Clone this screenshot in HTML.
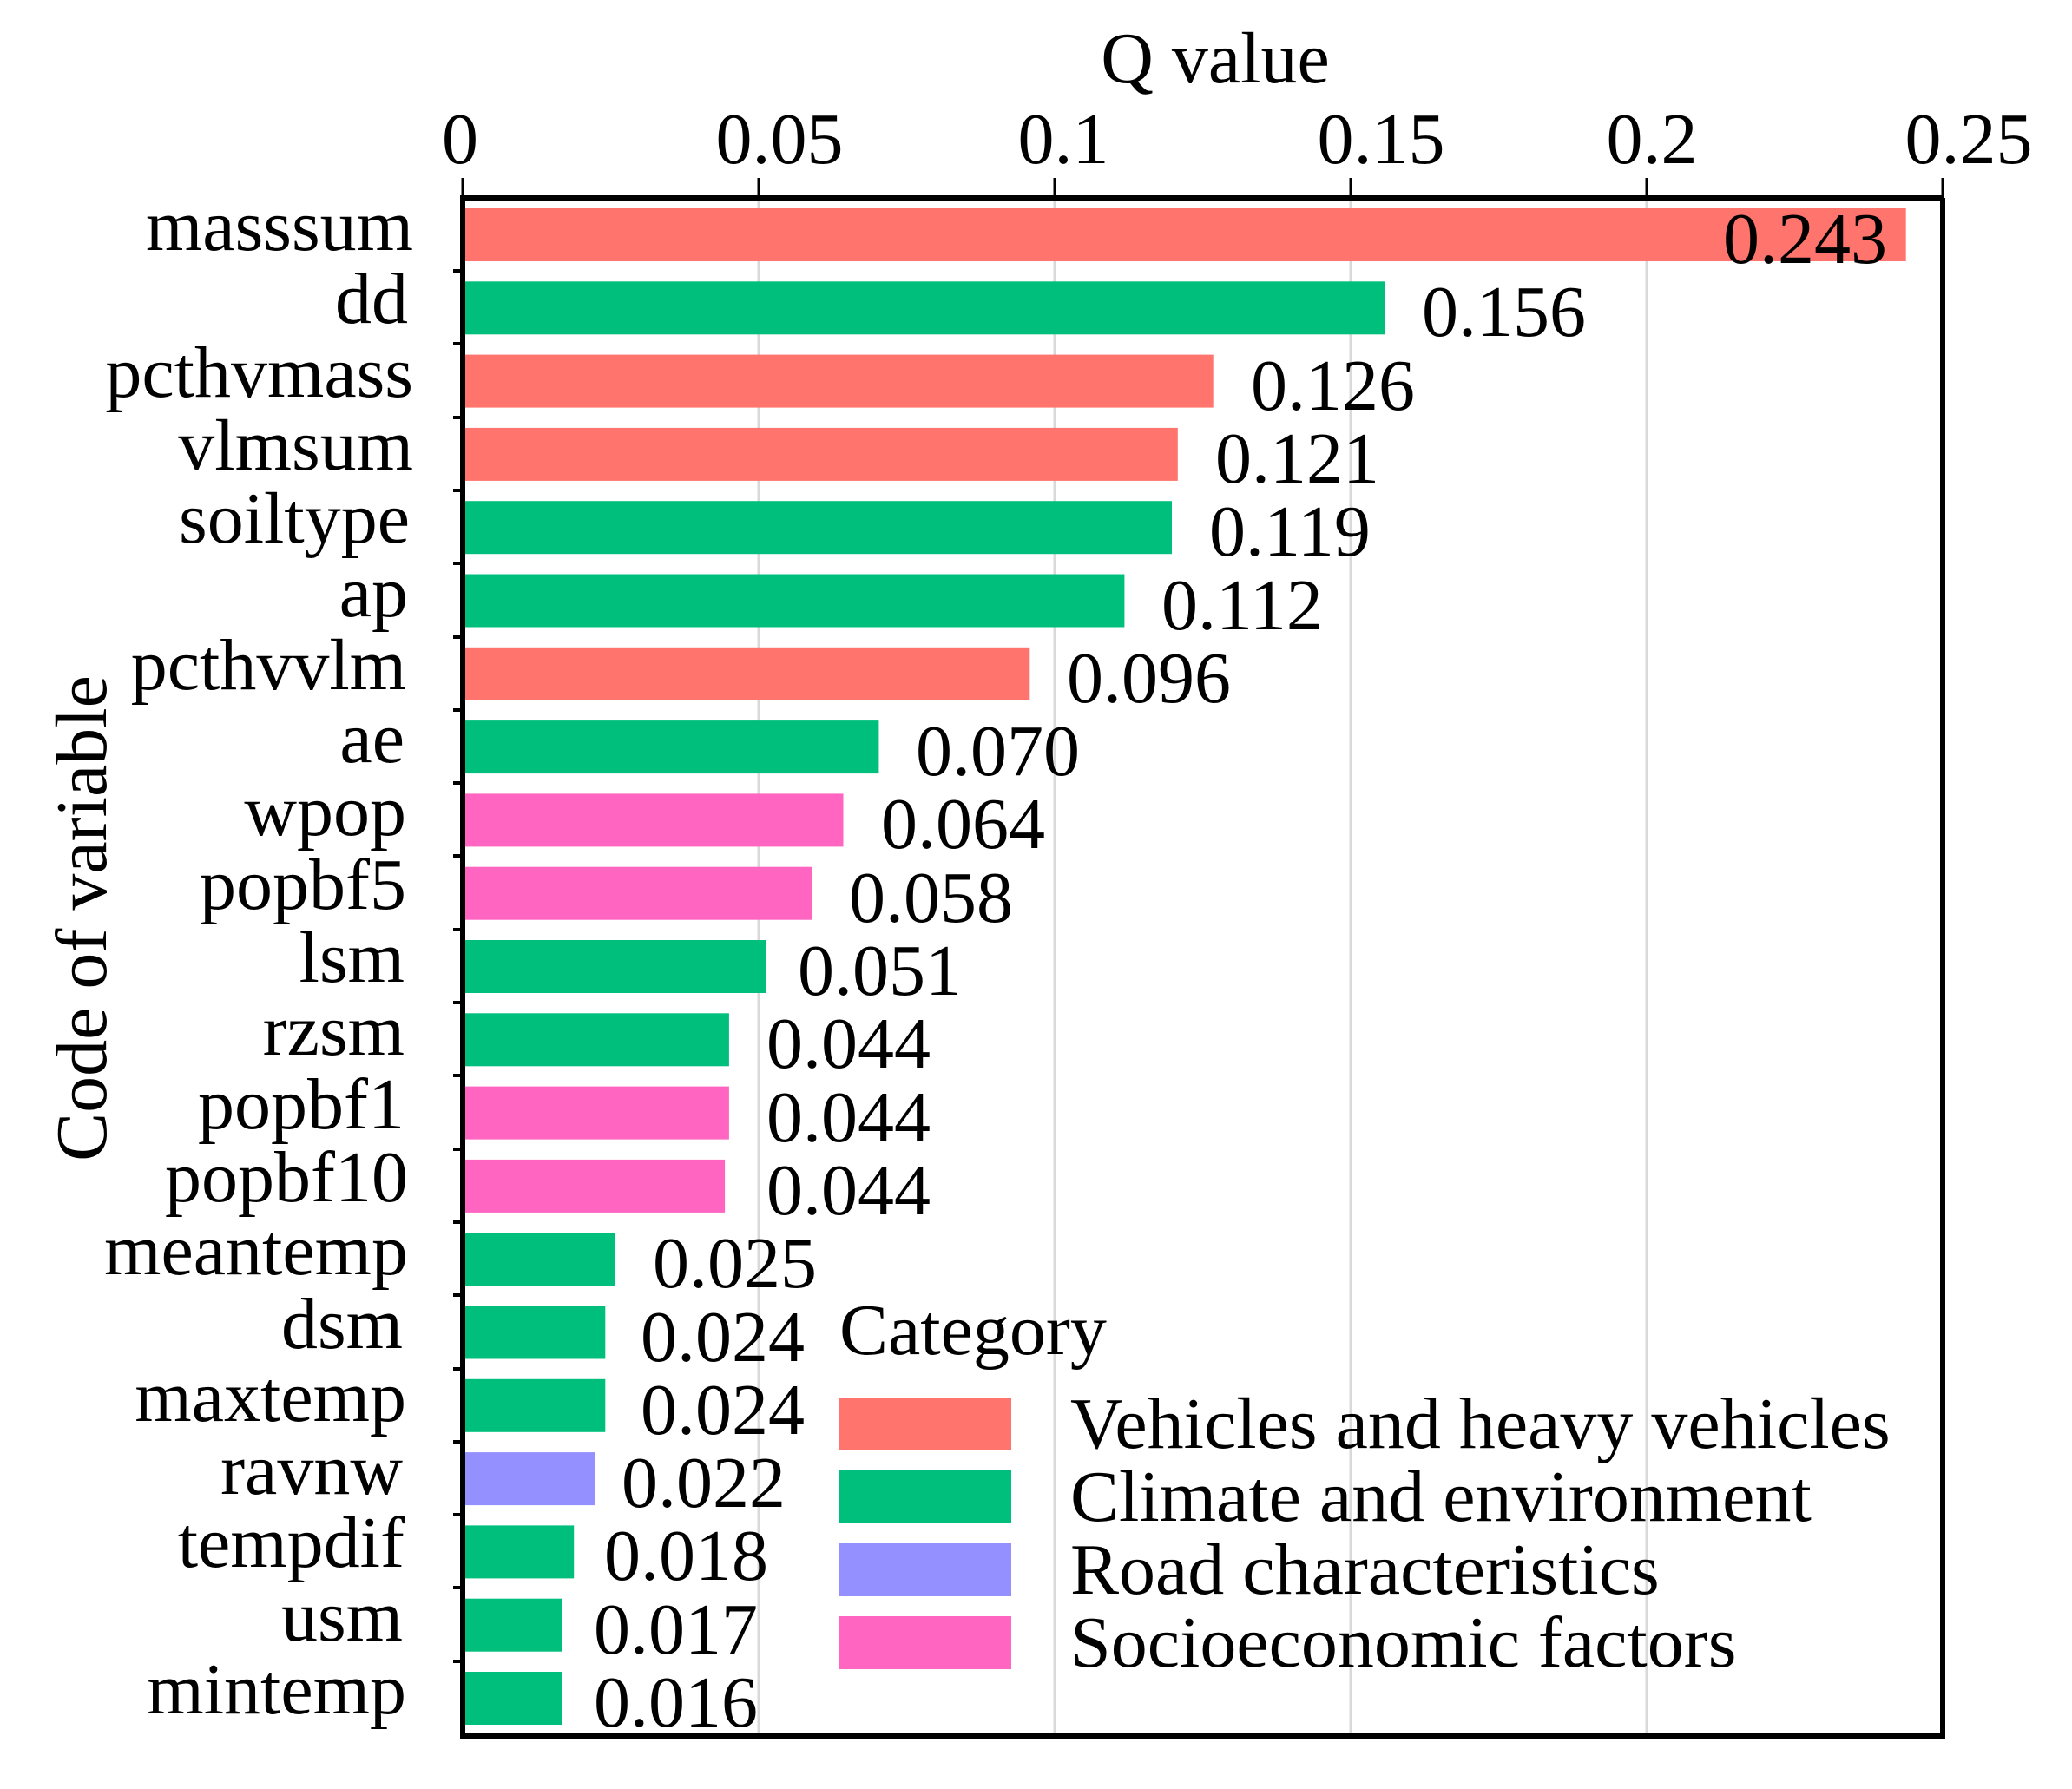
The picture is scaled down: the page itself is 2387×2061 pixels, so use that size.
<!DOCTYPE html>
<html><head><style>body{margin:0;background:#fff}</style></head><body>
<svg width="2387" height="2056" xmlns="http://www.w3.org/2000/svg" font-family="Liberation Serif, serif">
<rect width="2387" height="2056" fill="#fff"/>
<g stroke="#d9d9d9" stroke-width="3">
<line x1="874" y1="228" x2="874" y2="2000"/><line x1="1215" y1="228" x2="1215" y2="2000"/>
<line x1="1556" y1="228" x2="1556" y2="2000"/><line x1="1897" y1="228" x2="1897" y2="2000"/>
</g>
<g>
<rect x="535" y="240" width="1660.7" height="61" fill="#FF746C"/>
<rect x="535" y="324.3" width="1060.5" height="61" fill="#00BF7D"/>
<rect x="535" y="408.6" width="862.7" height="61" fill="#FF746C"/>
<rect x="535" y="492.9" width="821.8" height="61" fill="#FF746C"/>
<rect x="535" y="577.2" width="815" height="61" fill="#00BF7D"/>
<rect x="535" y="661.5" width="760.4" height="61" fill="#00BF7D"/>
<rect x="535" y="745.8" width="651.3" height="61" fill="#FF746C"/>
<rect x="535" y="830.1" width="477.4" height="61" fill="#00BF7D"/>
<rect x="535" y="914.4" width="436.5" height="61" fill="#FF65C1"/>
<rect x="535" y="998.7" width="400.3" height="61" fill="#FF65C1"/>
<rect x="535" y="1083" width="347.8" height="61" fill="#00BF7D"/>
<rect x="535" y="1167.3" width="304.9" height="61" fill="#00BF7D"/>
<rect x="535" y="1251.6" width="304.9" height="61" fill="#FF65C1"/>
<rect x="535" y="1335.9" width="300.1" height="61" fill="#FF65C1"/>
<rect x="535" y="1420.2" width="173.9" height="61" fill="#00BF7D"/>
<rect x="535" y="1504.5" width="162.3" height="61" fill="#00BF7D"/>
<rect x="535" y="1588.8" width="162.3" height="61" fill="#00BF7D"/>
<rect x="535" y="1673.1" width="150" height="61" fill="#9590FF"/>
<rect x="535" y="1757.4" width="126.2" height="61" fill="#00BF7D"/>
<rect x="535" y="1841.7" width="112.5" height="61" fill="#00BF7D"/>
<rect x="535" y="1926" width="112.5" height="61" fill="#00BF7D"/>
</g>
<g stroke="#000" stroke-width="4">
<line x1="522" y1="312" x2="533" y2="312"/><line x1="522" y1="396" x2="533" y2="396"/>
<line x1="522" y1="481" x2="533" y2="481"/><line x1="522" y1="565" x2="533" y2="565"/>
<line x1="522" y1="649" x2="533" y2="649"/><line x1="522" y1="734" x2="533" y2="734"/>
<line x1="522" y1="818" x2="533" y2="818"/><line x1="522" y1="902" x2="533" y2="902"/>
<line x1="522" y1="986" x2="533" y2="986"/><line x1="522" y1="1071" x2="533" y2="1071"/>
<line x1="522" y1="1155" x2="533" y2="1155"/><line x1="522" y1="1239" x2="533" y2="1239"/>
<line x1="522" y1="1324" x2="533" y2="1324"/><line x1="522" y1="1408" x2="533" y2="1408"/>
<line x1="522" y1="1492" x2="533" y2="1492"/><line x1="522" y1="1577" x2="533" y2="1577"/>
<line x1="522" y1="1661" x2="533" y2="1661"/><line x1="522" y1="1745" x2="533" y2="1745"/>
<line x1="522" y1="1829" x2="533" y2="1829"/><line x1="522" y1="1914" x2="533" y2="1914"/>
</g>
<g stroke="#000" stroke-width="6" fill="none">
<line x1="530" y1="228" x2="2240" y2="228"/>
<line x1="533" y1="225" x2="533" y2="2000"/>
<line x1="2238" y1="228" x2="2238" y2="2000"/>
<line x1="530" y1="2000" x2="2241" y2="2000"/>
</g>
<g stroke="#000" stroke-width="3">
<line x1="533" y1="205" x2="533" y2="228"/><line x1="874" y1="205" x2="874" y2="228"/>
<line x1="1215" y1="205" x2="1215" y2="228"/><line x1="1556" y1="205" x2="1556" y2="228"/>
<line x1="1897" y1="205" x2="1897" y2="228"/><line x1="2238" y1="205" x2="2238" y2="228"/>
</g>
<g font-size="84" text-anchor="middle" fill="#000">
<text x="530" y="188">0</text><text x="898" y="188">0.05</text><text x="1225" y="188">0.1</text>
<text x="1591" y="188">0.15</text><text x="1903" y="188">0.2</text><text x="2268" y="188">0.25</text>
<text x="1400" y="95">Q value</text>
<text transform="translate(122,1058) rotate(-90)">Code of variable</text>
</g>
<g font-size="84" text-anchor="end" transform="translate(0,-7)">
<text x="476" y="295">masssum</text>
<text x="470" y="379">dd</text>
<text x="476" y="464">pcthvmass</text>
<text x="476" y="548">vlmsum</text>
<text x="472" y="632">soiltype</text>
<text x="470" y="717">ap</text>
<text x="468" y="801">pcthvvlm</text>
<text x="466" y="885">ae</text>
<text x="468" y="969">wpop</text>
<text x="468" y="1054">popbf5</text>
<text x="466" y="1138">lsm</text>
<text x="466" y="1222">rzsm</text>
<text x="466" y="1307">popbf1</text>
<text x="470" y="1391">popbf10</text>
<text x="470" y="1475">meantemp</text>
<text x="464" y="1560">dsm</text>
<text x="468" y="1644">maxtemp</text>
<text x="464" y="1728">ravnw</text>
<text x="466" y="1812">tempdif</text>
<text x="464" y="1897">usm</text>
<text x="468" y="1981">mintemp</text>
</g>
<g font-size="84" transform="translate(0,-5)">
<text x="2174" y="308" text-anchor="end">0.243</text>
<text x="1638" y="392">0.156</text>
<text x="1441" y="477">0.126</text>
<text x="1400" y="561">0.121</text>
<text x="1393" y="645">0.119</text>
<text x="1338" y="730">0.112</text>
<text x="1229" y="814">0.096</text>
<text x="1055" y="898">0.070</text>
<text x="1015" y="982">0.064</text>
<text x="978" y="1067">0.058</text>
<text x="919" y="1151">0.051</text>
<text x="883" y="1235">0.044</text>
<text x="883" y="1320">0.044</text>
<text x="883" y="1404">0.044</text>
<text x="752" y="1488">0.025</text>
<text x="738" y="1573">0.024</text>
<text x="738" y="1657">0.024</text>
<text x="716" y="1741">0.022</text>
<text x="696" y="1825">0.018</text>
<text x="684" y="1910">0.017</text>
<text x="684" y="1994">0.016</text>
</g>
<g font-size="84">
<text x="967" y="1560">Category</text>
<rect x="967" y="1610" width="198" height="61" fill="#FF746C"/>
<rect x="967" y="1693" width="198" height="61" fill="#00BF7D"/>
<rect x="967" y="1778" width="198" height="61" fill="#9590FF"/>
<rect x="967" y="1862" width="198" height="61" fill="#FF65C1"/>
<text x="1233" y="1668">Vehicles and heavy vehicles</text>
<text x="1233" y="1752">Climate and environment</text>
<text x="1233" y="1836">Road characteristics</text>
<text x="1233" y="1920">Socioeconomic factors</text>
</g>
</svg>
</body></html>
